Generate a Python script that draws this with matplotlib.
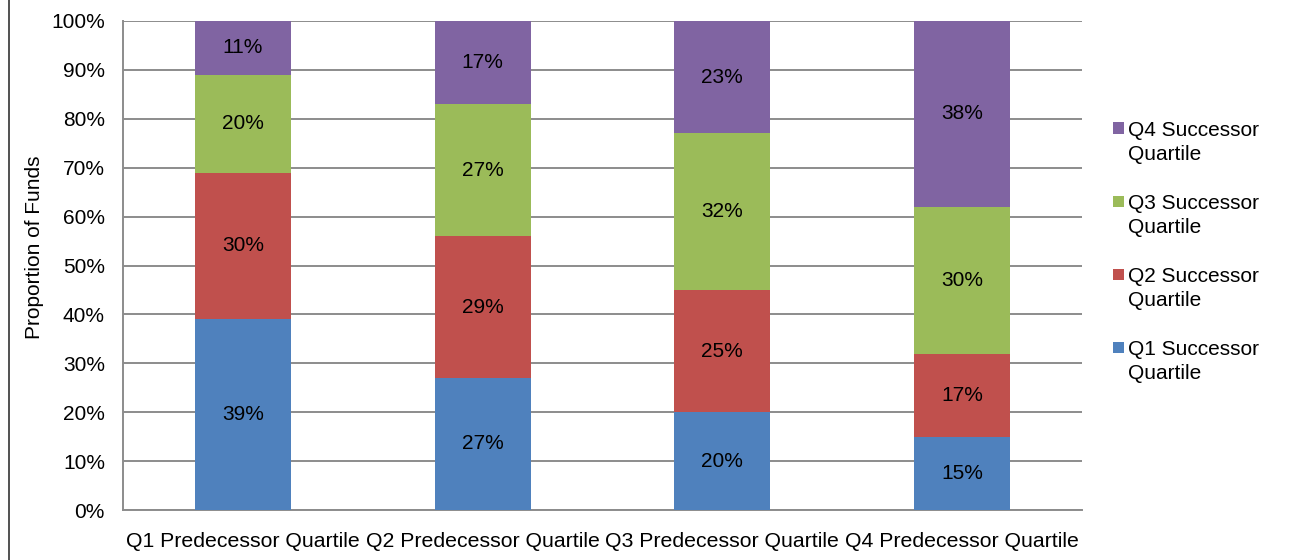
import matplotlib
matplotlib.use("Agg")
import matplotlib.pyplot as plt
from matplotlib.lines import Line2D
from matplotlib.patches import Rectangle
import numpy as np

plt.rcParams['font.family'] = ['Liberation Sans', 'DejaVu Sans']

categories = ["Q1 Predecessor Quartile", "Q2 Predecessor Quartile",
              "Q3 Predecessor Quartile", "Q4 Predecessor Quartile"]
series_names = ["Q1 Successor\nQuartile", "Q2 Successor\nQuartile",
                "Q3 Successor\nQuartile", "Q4 Successor\nQuartile"]
q1_successor = [39, 27, 20, 15]
q2_successor = [30, 29, 25, 17]
q3_successor = [20, 27, 32, 30]
q4_successor = [11, 17, 23, 38]
colors = ["#4F81BD", "#C0504D", "#9BBB59", "#8064A2"]

W, H = 1295, 560
fig = plt.figure(figsize=(W / 100, H / 100), dpi=100)
ax = fig.add_axes([123 / W, 50 / H, 959 / W, 489 / H])

x = np.arange(len(categories))
bottom = np.zeros(len(categories))
for name, vals, col in zip(series_names,
                           [q1_successor, q2_successor, q3_successor, q4_successor],
                           colors):
    vals = np.array(vals, dtype=float)
    ax.bar(x, vals, 0.4, bottom=bottom, color=col, edgecolor='none', zorder=3)
    for xi, b, v in zip(x, bottom, vals):
        ax.text(xi, b + v / 2, f"{v:.0f}%", ha='center', va='center',
                fontsize=15, color='black', zorder=4)
    bottom += vals

ax.set_xlim(-0.5, len(categories) - 0.5)
ax.set_ylim(0, 100)
ax.set_yticks(np.arange(0, 101, 10))
ax.set_yticklabels([f"{t}%" for t in range(0, 101, 10)], fontsize=15)
ax.set_xticks(x)
ax.set_xticklabels(categories, fontsize=15.3)
ax.tick_params(axis='x', length=0, pad=16)
ax.tick_params(axis='y', length=0, pad=13)
ax.yaxis.grid(True, color='#8C8C8C', linewidth=1.4, zorder=0)
ax.set_axisbelow(True)
for side in ['top', 'right']:
    ax.spines[side].set_visible(False)
for side in ['left', 'bottom']:
    ax.spines[side].set_color('#8C8C8C')
    ax.spines[side].set_linewidth(1.4)
ax.set_ylabel("Proportion of Funds", fontsize=15)
ax.yaxis.set_label_coords(-79 / 959, (510 - 247.5) / 489)

# Legend: series listed top to bottom from Q4 down to Q1, swatch beside first line
legend_top_y = 128
legend_step = 73.3
for i, (name, col) in enumerate(zip(series_names[::-1], colors[::-1])):
    yc = legend_top_y + i * legend_step
    fig.add_artist(Rectangle((1112.5 / W, 1 - (yc + 5.5) / H), 11 / W, 11 / H,
                             facecolor=col, edgecolor='none',
                             transform=fig.transFigure))
    for j, line in enumerate(name.split("\n")):
        fig.text(1128 / W, 1 - (yc + 2 + 24 * j) / H, line, ha='left',
                 va='center', fontsize=15, color='black')

fig.add_artist(Line2D([8.5 / W, 8.5 / W], [0, 1], color='#333333',
                      linewidth=1.2, transform=fig.transFigure))

fig.savefig("out.png", dpi=100)
